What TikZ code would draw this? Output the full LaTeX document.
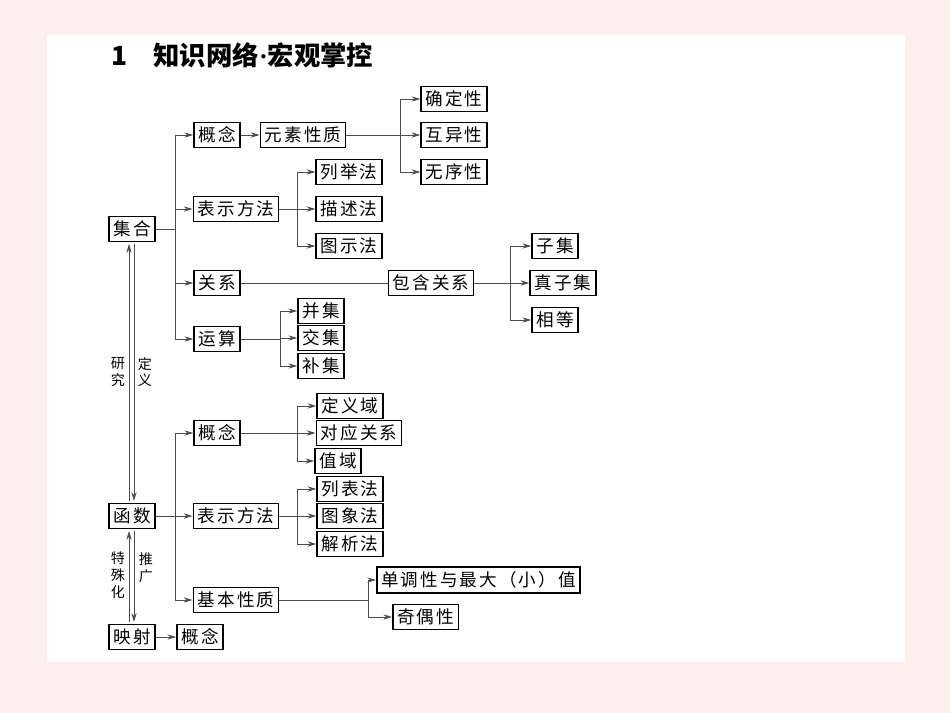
\documentclass[tikz,border=0pt]{standalone}
\usepackage{fontspec}
\newfontfamily\cjk{Noto Sans CJK SC}
\newfontfamily\cjkwide[LetterSpace=12]{Noto Sans CJK SC}
\usetikzlibrary{arrows.meta}
\tikzset{
  box/.style = {draw=black, line width=0.9pt, inner xsep=2.5pt, inner ysep=2.5pt, font=\cjkwide\fontsize{10}{12}\selectfont, fill=white},
  link/.style = {draw=black!70, line width=0.5pt, -{Stealth[length=5pt,width=3pt]}},
  plain/.style = {draw=black!70, line width=0.5pt},
  side/.style = {font=\cjk\fontsize{8}{9.5}\selectfont, align=center, inner sep=0pt},
}
\begin{document}
\begin{tikzpicture}[x=0.02cm, y=-0.02cm]
\fill[pink!25] (0,0) rectangle (950,713);
\fill[white] (47,35) rectangle (905,662);
\node[font=\cjk\bfseries\fontsize{15}{18}\selectfont, anchor=west] (title) at (105,55) {1\quad 知识网络{\fontspec{Liberation Serif}\textperiodcentered}宏观掌控};
% sets
\node[box] (set) at (132,229) {集合};
\node[box] (sconcept) at (217,135) {概念};
\node[box] (selem) at (303,135) {元素性质};
\node[box] (p1) at (454,99) {确定性};
\node[box] (p2) at (454,135) {互异性};
\node[box] (p3) at (454,172) {无序性};
\node[box] (srep) at (236,209) {表示方法};
\node[box] (r1) at (349,172) {列举法};
\node[box] (r2) at (349,209) {描述法};
\node[box] (r3) at (349,246) {图示法};
\node[box] (srel) at (217,283) {关系};
\node[box] (incl) at (431,283) {包含关系};
\node[box] (q1) at (555,246) {子集};
\node[box] (q2) at (563,283) {真子集};
\node[box] (q3) at (555,320) {相等};
\node[box] (sop) at (217,339) {运算};
\node[box] (o1) at (321,311) {并集};
\node[box] (o2) at (321,338) {交集};
\node[box] (o3) at (321,366) {补集};
% functions
\node[box] (fun) at (132,516) {函数};
\node[box] (fconcept) at (217,433) {概念};
\node[box] (d1) at (350,406) {定义域};
\node[box] (d2) at (359,433) {对应关系};
\node[box] (d3) at (338,461) {值域};
\node[box] (frep) at (236,516) {表示方法};
\node[box] (m1) at (350,489) {列表法};
\node[box] (m2) at (350,516) {图象法};
\node[box] (m3) at (350,544) {解析法};
\node[box] (fprop) at (236,600) {基本性质};
\node[box, anchor=west] (g1) at (376,580) {单调性与最大（小）值};
\node[box, anchor=west] (g2) at (392,617) {奇偶性};
\node[box] (map) at (132,637) {映射};
\node[box] (mconcept) at (200,637) {概念};
% trunks
\draw[plain] (set.east) -- (175,229);
\foreach \t in {sconcept,srep,srel,sop} \draw[link] (175,229) |- (\t.west);
\draw[plain] (fun.east) -- (175,516);
\foreach \t in {fconcept,frep,fprop} \draw[link] (175,516) |- (\t.west);
\draw[link] (sconcept) -- (selem);
\draw[link] (map) -- (mconcept);
\draw[plain] (srel) -- (incl);
% branches
\foreach \s/\x/\a/\b/\c in {selem/400/p1/p2/p3, srep/297/r1/r2/r3, incl/510/q1/q2/q3, sop/280/o1/o2/o3, fconcept/297/d1/d2/d3, frep/297/m1/m2/m3}{
  \path (\s.east) -- ++(1,0) coordinate (tmp);
  \draw[plain] (\s.east) -- (\x,0 |- tmp) coordinate (fork);
  \foreach \t in {\a,\b,\c} \draw[link] (fork) |- (\t.west);
}
\draw[plain] (fprop.east) -- (368,600) coordinate (pfork);
\foreach \t in {g1,g2} \draw[link] (pfork) |- (\t.west);
% double arrows
\draw[link] (129,501) -- (129,244);
\draw[link] (134,244) -- (134,501);
\draw[link] (129,622) -- (129,531);
\draw[link] (134,531) -- (134,622);
\node[side] (study) at (118,372) {研\\究};
\node[side] (define) at (145,372) {定\\义};
\node[side] (special) at (118,575) {特\\殊\\化};
\node[side] (general) at (146,568) {推\\广};
\end{tikzpicture}
\end{document}
